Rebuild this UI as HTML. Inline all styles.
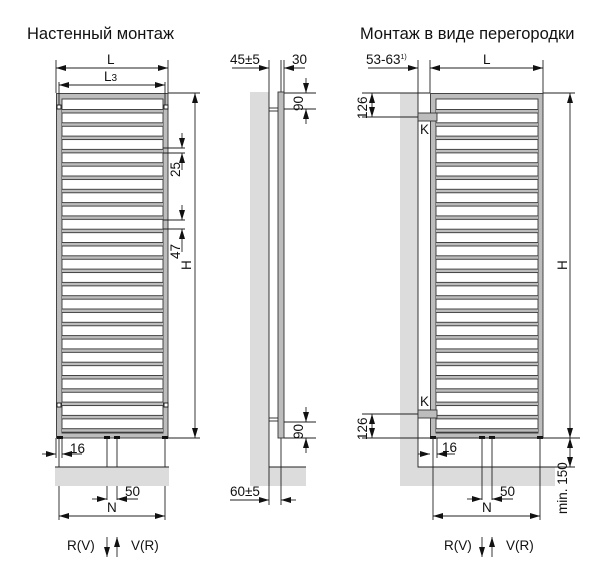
<!DOCTYPE html><html><head><meta charset="utf-8"><style>body{margin:0;background:#fff}svg{display:block}text{font-family:"Liberation Sans",sans-serif;fill:#111}</style></head><body>
<svg width="606" height="586" viewBox="0 0 606 586" xmlns="http://www.w3.org/2000/svg">
<defs>
<pattern id="bars" x="0" y="109" width="200" height="13.3" patternUnits="userSpaceOnUse">
<rect x="0" y="0.5" width="200" height="3.5" fill="#bdbdbd" stroke="#333" stroke-width="0.9"/>
</pattern>
<marker id="a" viewBox="0 0 10 6" refX="10" refY="3" markerWidth="10" markerHeight="6" orient="auto-start-reverse" markerUnits="userSpaceOnUse"><path d="M0,0L10,3L0,6z" fill="#111"/></marker>
</defs>
<text x="27" y="39" font-size="16.5">Настенный монтаж</text>
<text x="360" y="39" font-size="16.5">Монтаж в виде перегородки</text>

<g stroke="#222" stroke-width="0.9" fill="none">
<rect x="56.5" y="93.5" width="111.5" height="344.5" fill="#bdbdbd" stroke="#333"/>
<rect x="62" y="99" width="101" height="334" fill="#fff" stroke="#333"/>
<rect x="62" y="105" width="101" height="328" fill="url(#bars)" stroke="none"/>
<rect x="57" y="105" width="4" height="4" fill="#fff" stroke="#111"/>
<rect x="164" y="105" width="4" height="4" fill="#fff" stroke="#111"/>
<rect x="57" y="403" width="4" height="4" fill="#fff" stroke="#111"/>
<rect x="164" y="403" width="4" height="4" fill="#fff" stroke="#111"/>
<g fill="#111" stroke="none"><rect x="57" y="436" width="6" height="3"/><rect x="104" y="436" width="6" height="3"/><rect x="114" y="436" width="6" height="3"/><rect x="162" y="436" width="6" height="3"/></g>
<line x1="56" y1="60" x2="56" y2="93"/><line x1="168" y1="60" x2="168" y2="93"/>
<line x1="56" y1="68" x2="168" y2="68" marker-start="url(#a)" marker-end="url(#a)"/>
<line x1="59" y1="82" x2="59" y2="105"/><line x1="165" y1="82" x2="165" y2="105"/>
<line x1="59" y1="85" x2="165" y2="85" marker-start="url(#a)" marker-end="url(#a)"/>
<line x1="168" y1="93" x2="200" y2="93"/><line x1="168" y1="438" x2="200" y2="438"/>
<line x1="195" y1="93" x2="195" y2="438" marker-start="url(#a)" marker-end="url(#a)"/>
<line x1="163" y1="148" x2="185" y2="148"/><line x1="163" y1="153" x2="185" y2="153"/>
<line x1="182" y1="133" x2="182" y2="148" marker-end="url(#a)"/><line x1="182" y1="170" x2="182" y2="153" marker-end="url(#a)"/>
<line x1="163" y1="220" x2="185" y2="220"/><line x1="163" y1="229" x2="185" y2="229"/>
<line x1="182" y1="205" x2="182" y2="220" marker-end="url(#a)"/><line x1="182" y1="252" x2="182" y2="229" marker-end="url(#a)"/>
<line x1="59" y1="438" x2="59" y2="520"/><line x1="165" y1="438" x2="165" y2="520"/>
<line x1="107" y1="438" x2="107" y2="500"/><line x1="117" y1="438" x2="117" y2="500"/>
<line x1="42" y1="454" x2="56" y2="454" marker-end="url(#a)"/><line x1="82" y1="454" x2="62" y2="454" marker-end="url(#a)"/>
<line x1="56" y1="438" x2="56" y2="458"/><line x1="62" y1="438" x2="62" y2="458"/>
<rect x="55" y="467" width="114" height="19" fill="#dcdcdc" stroke="none"/>
<line x1="55" y1="467" x2="169" y2="467"/>
<line x1="92" y1="499" x2="107" y2="499" marker-end="url(#a)"/><line x1="138" y1="499" x2="117" y2="499" marker-end="url(#a)"/>
<line x1="59" y1="516" x2="165" y2="516" marker-start="url(#a)" marker-end="url(#a)"/>
<line x1="107" y1="537" x2="107" y2="557" marker-end="url(#a)"/><line x1="117" y1="557" x2="117" y2="537" marker-end="url(#a)"/>

<rect x="250" y="92" width="19" height="394" fill="#dcdcdc" stroke="none"/>
<rect x="269" y="467" width="37" height="19" fill="#dcdcdc" stroke="none"/>
<line x1="269" y1="467" x2="306" y2="467"/>
<line x1="269" y1="60" x2="269" y2="505"/>
<line x1="281" y1="60" x2="281" y2="505"/>
<rect x="278" y="92" width="6" height="346" fill="#bdbdbd" stroke="#333"/>
<line x1="269" y1="108" x2="278" y2="108"/><line x1="269" y1="111" x2="278" y2="111"/>
<line x1="269" y1="418" x2="278" y2="418"/><line x1="269" y1="421" x2="278" y2="421"/>
<line x1="232" y1="68" x2="269" y2="68" marker-end="url(#a)"/><line x1="305" y1="68" x2="284" y2="68" marker-end="url(#a)"/>
<line x1="284" y1="60" x2="284" y2="92"/>
<line x1="284" y1="93" x2="316" y2="93"/><line x1="284" y1="109" x2="316" y2="109"/>
<line x1="306" y1="78" x2="306" y2="93" marker-end="url(#a)"/><line x1="306" y1="124" x2="306" y2="109" marker-end="url(#a)"/>
<line x1="284" y1="422" x2="316" y2="422"/><line x1="284" y1="438" x2="316" y2="438"/>
<line x1="306" y1="407" x2="306" y2="422" marker-end="url(#a)"/><line x1="306" y1="453" x2="306" y2="438" marker-end="url(#a)"/>
<line x1="230" y1="500" x2="269" y2="500" marker-end="url(#a)"/><line x1="296" y1="500" x2="281" y2="500" marker-end="url(#a)"/>

<rect x="400" y="93" width="18" height="393" fill="#dcdcdc" stroke="none"/>
<rect x="418" y="467" width="137" height="19" fill="#dcdcdc" stroke="none"/>
<polyline points="418,60 418,467 555,467"/>
<rect x="430.5" y="93.5" width="112.5" height="344.5" fill="#bdbdbd" stroke="#333"/>
<rect x="436" y="99" width="102" height="334" fill="#fff" stroke="#333"/>
<rect x="436" y="105" width="102" height="328" fill="url(#bars)" stroke="none"/>
<rect x="418" y="113" width="19" height="8" fill="#bdbdbd" stroke="#333"/>
<rect x="418" y="410" width="19" height="8" fill="#bdbdbd" stroke="#333"/>
<g fill="#111" stroke="none"><rect x="430" y="436" width="6" height="3"/><rect x="479" y="436" width="6" height="3"/><rect x="489" y="436" width="6" height="3"/><rect x="537" y="436" width="6" height="3"/></g>
<line x1="430" y1="60" x2="430" y2="93"/><line x1="543" y1="60" x2="543" y2="93"/>
<line x1="368" y1="68" x2="418" y2="68" marker-end="url(#a)"/>
<line x1="430" y1="68" x2="543" y2="68" marker-start="url(#a)" marker-end="url(#a)"/>
<line x1="543" y1="93" x2="575" y2="93"/><line x1="362" y1="93" x2="430" y2="93"/>
<line x1="570" y1="93" x2="570" y2="438" marker-start="url(#a)" marker-end="url(#a)"/>
<line x1="362" y1="117" x2="418" y2="117"/>
<line x1="372" y1="93" x2="372" y2="117" marker-start="url(#a)" marker-end="url(#a)"/>
<line x1="362" y1="414" x2="418" y2="414"/><line x1="362" y1="438" x2="580" y2="438"/>
<line x1="372" y1="414" x2="372" y2="438" marker-start="url(#a)" marker-end="url(#a)"/>
<line x1="570" y1="438" x2="570" y2="467" marker-start="url(#a)" marker-end="url(#a)"/>
<line x1="555" y1="467" x2="575" y2="467"/>
<line x1="433" y1="438" x2="433" y2="520"/><line x1="540" y1="438" x2="540" y2="520"/>
<line x1="437" y1="438" x2="437" y2="458"/>
<line x1="482" y1="438" x2="482" y2="500"/><line x1="492" y1="438" x2="492" y2="500"/>
<line x1="418" y1="454" x2="430" y2="454" marker-end="url(#a)"/><line x1="455" y1="454" x2="437" y2="454" marker-end="url(#a)"/>
<line x1="467" y1="499" x2="482" y2="499" marker-end="url(#a)"/><line x1="513" y1="499" x2="492" y2="499" marker-end="url(#a)"/>
<line x1="433" y1="516" x2="540" y2="516" marker-start="url(#a)" marker-end="url(#a)"/>
<line x1="482" y1="537" x2="482" y2="557" marker-end="url(#a)"/><line x1="492" y1="557" x2="492" y2="537" marker-end="url(#a)"/>
</g>

<g font-size="13.5">
<text x="107" y="64">L</text>
<text x="104" y="81">L<tspan font-size="10">3</tspan></text>
<text transform="translate(191,270) rotate(-90)">H</text>
<text transform="translate(180,177) rotate(-90)">25</text>
<text transform="translate(180,259) rotate(-90)">47</text>
<text x="70" y="453">16</text>
<text x="125" y="496">50</text>
<text x="107" y="512">N</text>
<text x="67" y="550">R(V)</text>
<text x="131" y="550">V(R)</text>
<text x="230" y="64">45±5</text>
<text x="292" y="64">30</text>
<text transform="translate(303,111) rotate(-90)">90</text>
<text transform="translate(303,439) rotate(-90)">90</text>
<text x="230" y="496">60±5</text>
<text x="366" y="64">53-63<tspan font-size="7" dy="-5">1)</tspan></text>
<text x="483" y="64">L</text>
<text transform="translate(567,270) rotate(-90)">H</text>
<text transform="translate(367,119) rotate(-90)">126</text>
<text transform="translate(367,440) rotate(-90)">126</text>
<text x="420" y="134">K</text>
<text x="420" y="406">K</text>
<text x="442" y="452">16</text>
<text x="500" y="496">50</text>
<text x="482" y="512">N</text>
<text transform="translate(567,514) rotate(-90)">min. 150</text>
<text x="444" y="550">R(V)</text>
<text x="506" y="550">V(R)</text>
</g>
</svg>
</body></html>
